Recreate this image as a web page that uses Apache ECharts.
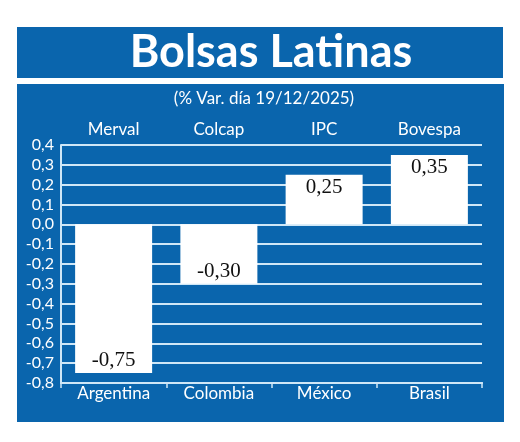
<!DOCTYPE html>
<html>
<head>
<meta charset="utf-8">
<script src="https://cdn.jsdelivr.net/npm/echarts@6/dist/echarts.min.js"></script>
<style>
html,body{margin:0;padding:0;background:#ffffff;}
#chart{width:520px;height:442px;}
</style>
</head>
<body>
<div id="chart"></div>
<script>
const titleText = 'Bolsas Latinas';
const subtitleText = '(% Var. día 19/12/2025)';
const countries = ['Argentina', 'Colombia', 'México', 'Brasil'];
const indices = ['Merval', 'Colcap', 'IPC', 'Bovespa'];
const changes = [-0.75, -0.30, 0.25, 0.35];
const yMin = -0.8, yMax = 0.4, yStep = 0.1;

const BLUE = '#0a65ad';
const LINE = '#cfe7f7';
const sans = 'Lato';

const chart = echarts.init(document.getElementById('chart'), null, {renderer: 'canvas'});

const fmt = (v, d) => v.toFixed(d).replace('.', ',');

chart.setOption({
  backgroundColor: '#ffffff',
  animation: false,
  graphic: [
    {type: 'rect', z: -10, shape: {x: 17, y: 27, width: 486, height: 51}, style: {fill: BLUE}},
    {type: 'rect', z: -10, shape: {x: 17, y: 84, width: 487, height: 338}, style: {fill: BLUE}},
    {type: 'text', z: 10, x: 271, y: 52, style: {text: titleText, fill: '#ffffff', font: 'bold 45px Lato', align: 'center', verticalAlign: 'middle'}},
    {type: 'text', z: 10, x: 264, y: 99, style: {text: subtitleText, fill: '#ffffff', font: '17px Lato', align: 'center', verticalAlign: 'middle'}}
  ],
  grid: {left: 61, right: 38, top: 145, bottom: 59, containLabel: false},
  xAxis: [
    {
      type: 'category', data: countries, position: 'bottom',
      axisLine: {show: true, onZero: false, lineStyle: {color: LINE, width: 2}},
      axisTick: {show: false},
      axisLabel: {color: '#ffffff', fontFamily: sans, fontSize: 17, margin: 2}
    },
    {
      type: 'category', data: indices, position: 'top',
      axisLine: {show: false}, axisTick: {show: false},
      axisLabel: {color: '#ffffff', fontFamily: sans, fontSize: 17, margin: 7}
    },
    {
      type: 'category', data: countries, position: 'bottom',
      axisLine: {show: true, onZero: true, lineStyle: {color: LINE, width: 2}},
      axisTick: {show: true, length: 5, lineStyle: {color: LINE, width: 1.5}},
      axisLabel: {show: false}
    }
  ],
  yAxis: {
    type: 'value', min: yMin, max: yMax, interval: yStep,
    axisLine: {show: true, lineStyle: {color: LINE, width: 2}},
    axisTick: {show: false},
    splitLine: {show: true, lineStyle: {color: LINE, width: 2}},
    axisLabel: {color: '#ffffff', fontFamily: sans, fontSize: 16, margin: 7,
      formatter: v => fmt(v, 1)}
  },
  series: [{
    type: 'bar',
    xAxisIndex: 0,
    barWidth: 77,
    itemStyle: {color: '#ffffff'},
    label: {
      show: true, color: '#111111', fontFamily: 'Liberation Serif', fontSize: 21,
      distance: 2,
      formatter: p => fmt(p.value, 2)
    },
    data: changes.map(v => ({value: v, label: {position: v < 0 ? 'insideBottom' : 'insideTop'}}))
  }]
});
</script>
</body>
</html>
